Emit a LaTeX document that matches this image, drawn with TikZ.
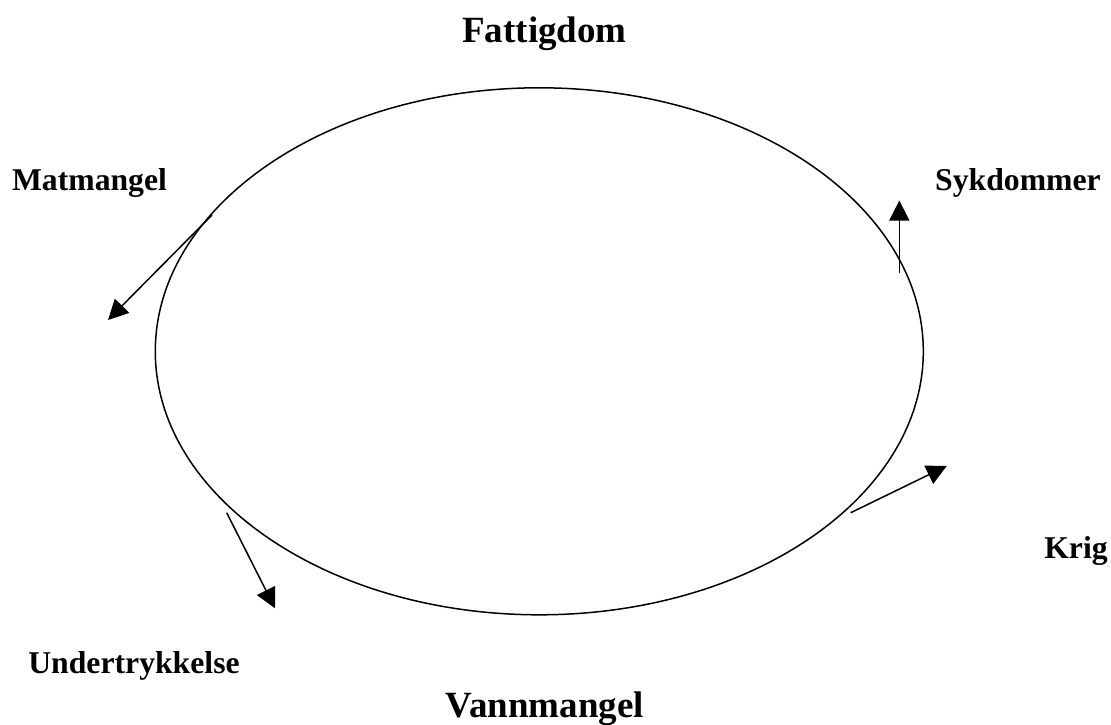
\documentclass[tikz,border=0pt]{standalone}
\usepackage{fontspec}
\setmainfont{Liberation Serif}
\usetikzlibrary{arrows.meta,shapes.geometric}
\tikzset{
  lbl/.style={font=\fontsize{31.7}{36}\selectfont\bfseries, inner sep=0pt, anchor=base},
  biglbl/.style={font=\fontsize{37}{42}\selectfont\bfseries, inner sep=0pt, anchor=base},
  arr/.style={line width=1.5pt, -{Triangle[length=20pt,width=20pt]}},
  ring/.style={ellipse, draw, line width=1.5pt, inner sep=0pt, minimum width=768pt, minimum height=527pt}
}
\begin{document}
\begin{tikzpicture}[x=1pt,y=-1pt]
\useasboundingbox (0,0) rectangle (1111,724);
\fill[white] (0,0) rectangle (1111,724);
\node[ring] (ell) at (539.3,351.3) {};
\node[biglbl] (fat) at (544.5,42.5) {Fattigdom};
\node[biglbl] (van) at (545,717) {Vannmangel};
\node[lbl] (mat) at (89.5,190.5) {Matmangel};
\node[lbl] (syk) at (1018,190) {Sykdommer};
\node[lbl] (kri) at (1076,558) {Krig};
\node[lbl] (und) at (134,673) {Undertrykkelse};
\coordinate (a1) at (212,215);
\coordinate (b1) at (108,320);
\coordinate (a2) at (899.3,273.3);
\coordinate (b2) at (899.3,200.5);
\coordinate (a3) at (850.7,512.7);
\coordinate (b3) at (946.7,466);
\coordinate (a4) at (226.7,512.7);
\coordinate (b4) at (275,608.3);
\draw[arr] (a1) -- (b1);
\draw[arr] (a2) -- (b2);
\draw[arr] (a3) -- (b3);
\draw[arr] (a4) -- (b4);
\end{tikzpicture}
\end{document}
